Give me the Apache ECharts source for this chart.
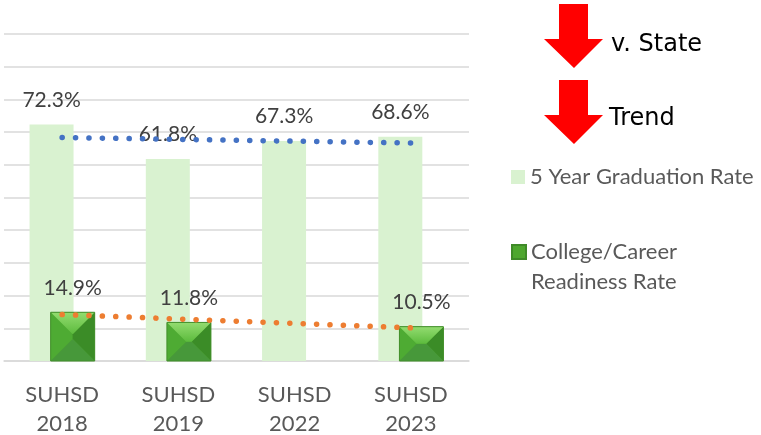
<!DOCTYPE html>
<html>
<head>
<meta charset="utf-8">
<script src="https://cdn.jsdelivr.net/npm/echarts@6/dist/echarts.min.js"></script>
<style>
html,body{margin:0;padding:0;background:#fff;}
#chart{width:761px;height:435px;}
</style>
</head>
<body>
<div id="chart"></div>
<script>
// ---- data ----
const categories = ['SUHSD\n2018', 'SUHSD\n2019', 'SUHSD\n2022', 'SUHSD\n2023'];
const gradRate = [72.3, 61.8, 67.3, 68.6];
const ccrRate = [14.9, 11.8, null, 10.5];
const seriesNames = ['5 Year Graduation Rate', 'College/Career Readiness Rate'];
const yTicks = { min: 0, max: 100, interval: 10 };

// ---- linear trend (least squares over the category index) ----
function trend(vals) {
  const pts = [];
  vals.forEach((v, i) => { if (v != null) pts.push([i + 1, v]); });
  const n = pts.length;
  const mx = pts.reduce((s, p) => s + p[0], 0) / n;
  const my = pts.reduce((s, p) => s + p[1], 0) / n;
  let sxy = 0, sxx = 0;
  pts.forEach(p => { sxy += (p[0] - mx) * (p[1] - my); sxx += (p[0] - mx) * (p[0] - mx); });
  const b = sxy / sxx;
  return vals.map((_, i) => my + b * (i + 1 - mx));
}
const gradTrend = trend(gradRate);
const ccrTrend = trend(ccrRate);

const BAR_W = 44;
const BAR_GAP = -0.52;
const darkOffset = (BAR_W * 2 + BAR_W * BAR_GAP) / 2 - BAR_W / 2; // center offset of second bar

const chart = echarts.init(document.getElementById('chart'), null, { renderer: 'canvas' });

const labelStyle = {
  show: true, position: 'top', distance: 14,
  fontFamily: 'Lato', fontSize: 21, color: '#404040',
  formatter: p => p.value == null ? '' : p.value.toFixed(1) + '%'
};

function bevel(params, api) {
  const v = api.value(1);
  if (v == null || isNaN(v)) return null;
  const idx = api.value(0);
  const top = api.coord([idx, v]);
  const base = api.coord([idx, 0]);
  const cx = top[0] + darkOffset;
  const x0 = cx - BAR_W / 2, x1 = cx + BAR_W / 2;
  const y0 = top[1], y1 = base[1];
  const d = Math.min(BAR_W, y1 - y0) / 2;
  const poly = (pts, fill) => ({ type: 'polygon', shape: { points: pts }, style: { fill: fill, stroke: null } });
  return {
    type: 'group',
    children: [
      poly([[x0, y0], [x0 + d, y0 + d], [x0 + d, y1 - d], [x0, y1]], '#4eab33'),
      poly([[x1, y0], [x1 - d, y0 + d], [x1 - d, y1 - d], [x1, y1]], '#3b8c27'),
      poly([[x0, y1], [x1, y1], [x1 - d, y1 - d], [x0 + d, y1 - d]], '#47983a'),
      poly([[x0, y0], [x1, y0], [x1 - d, y0 + d], [x0 + d, y0 + d]], new echarts.graphic.LinearGradient(0, 0, 0, 1, [
        { offset: 0, color: '#93dc70' }, { offset: 1, color: '#5cbb3d' }
      ])),
      { type: 'rect', shape: { x: x0, y: y0, width: BAR_W, height: y1 - y0 },
        style: { fill: null, stroke: '#43902b', lineWidth: 1 } }
    ]
  };
}

const option = {
  animation: false,
  backgroundColor: '#ffffff',
  grid: { left: 4, right: 292, top: 34, bottom: 74, containLabel: false, outerBoundsMode: 'none' },
  legend: [
    {
      data: [seriesNames[0]], orient: 'vertical', left: 511, top: 164, padding: 0,
      itemWidth: 14, itemHeight: 14, icon: 'rect',
      textStyle: { fontFamily: 'Lato', fontSize: 22, color: '#595959', lineHeight: 26 }
    },
    {
      data: [seriesNames[1]], orient: 'vertical', left: 511, top: 207, padding: 0,
      itemWidth: 14, itemHeight: 14, icon: 'rect',
      formatter: () => '\nCollege/Career\nReadiness Rate',
      textStyle: { fontFamily: 'Lato', fontSize: 22, color: '#595959', lineHeight: 30 }
    }
  ],
  xAxis: {
    type: 'category', data: categories, boundaryGap: true,
    axisLine: { show: true, lineStyle: { color: '#d9d9d9', width: 1.5 } },
    axisTick: { show: false },
    axisLabel: { fontFamily: 'Lato', fontSize: 22, color: '#595959', lineHeight: 29, margin: 19 }
  },
  yAxis: {
    type: 'value', min: yTicks.min, max: yTicks.max, interval: yTicks.interval,
    axisLabel: { show: false }, axisLine: { show: false }, axisTick: { show: false },
    splitLine: { lineStyle: { color: '#d9d9d9', width: 1.5 } }
  },
  graphic: [
    { type: 'polygon', shape: { points: [[559, 4], [588, 4], [588, 39], [603, 39], [574, 68], [544, 39], [559, 39]] }, style: { fill: '#ff0000' } },
    { type: 'polygon', shape: { points: [[559, 80], [588, 80], [588, 115], [603, 115], [574, 144], [544, 115], [559, 115]] }, style: { fill: '#ff0000' } },
    { type: 'text', left: 611, top: 33, style: { text: 'v. State', font: '24px "DejaVu Sans"', fill: '#000' } },
    { type: 'text', left: 609, top: 107, style: { text: 'Trend', font: '24px "DejaVu Sans"', fill: '#000' } }
  ],
  series: [
    {
      name: seriesNames[0], type: 'bar', data: gradRate, barWidth: BAR_W, barGap: (BAR_GAP * 100) + '%',
      itemStyle: { color: '#d9f2d0' }, label: labelStyle, z: 2
    },
    {
      name: seriesNames[1], type: 'bar', data: ccrRate, barWidth: BAR_W,
      itemStyle: { color: '#4ea72e', borderColor: '#3f8a28', borderWidth: 1 }, label: labelStyle, z: 2
    },
    {
      type: 'custom', silent: true, renderItem: bevel, z: 3,
      data: ccrRate.map((v, i) => [i, v]), encode: { x: 0, y: 1 }
    },
    {
      type: 'line', data: gradTrend, symbol: 'none', silent: true, z: 5,
      lineStyle: { color: '#4472c4', width: 5.5, type: [0.1, 13.3], cap: 'round' }
    },
    {
      type: 'line', data: ccrTrend, symbol: 'none', silent: true, z: 5,
      lineStyle: { color: '#ed7d31', width: 5.5, type: [0.1, 13.3], cap: 'round' }
    }
  ]
};
chart.setOption(option);
</script>
</body>
</html>
